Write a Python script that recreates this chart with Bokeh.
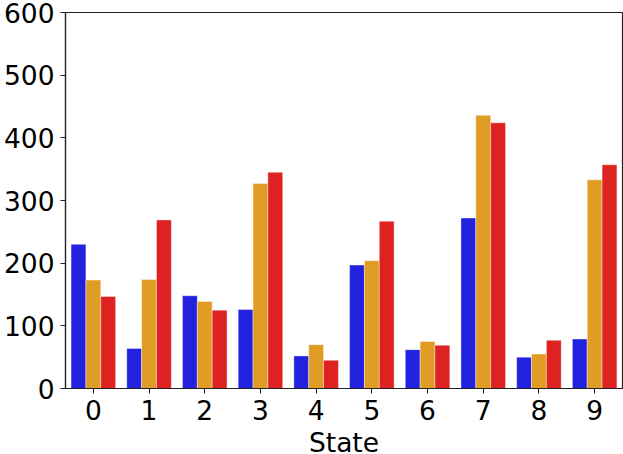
from bokeh.plotting import figure
from bokeh.models import ColumnDataSource, FactorRange, Range1d, FixedTicker
from bokeh.transform import dodge
from bokeh.embed import file_html
from bokeh.resources import INLINE

states = ["0", "1", "2", "3", "4", "5", "6", "7", "8", "9"]
series_a = [230, 64, 148, 126, 52, 197, 62, 272, 50, 79]
series_b = [173, 174, 139, 327, 70, 204, 75, 436, 55, 333]
series_c = [147, 269, 125, 345, 45, 267, 69, 424, 77, 357]
y_ticks = [0, 100, 200, 300, 400, 500, 600]

colors = ["#2121DE", "#E09C24", "#DE2121"]

src = ColumnDataSource(dict(state=states, a=series_a, b=series_b, c=series_c))

p = figure(
    x_range=FactorRange(factors=states, range_padding=0),
    y_range=Range1d(0, 600),
    frame_width=557, frame_height=376,
    min_border_left=64, min_border_right=2, min_border_top=12, min_border_bottom=66,
    output_backend="svg", toolbar_location=None,
    margin=(0, 0, 0, 0),
)

bw = 0.8 / 3
for key, off, col in (("a", -bw, colors[0]), ("b", 0.0, colors[1]), ("c", bw, colors[2])):
    p.vbar(x=dodge("state", off, range=p.x_range), top=key, width=bw, bottom=0,
           source=src, fill_color=col, line_color="white", line_alpha=0.5, line_width=0.8)

p.xgrid.visible = False
p.ygrid.visible = False
p.outline_line_color = "#222222"
p.outline_line_width = 1.2
p.background_fill_color = "white"
p.border_fill_color = "white"

p.yaxis.ticker = FixedTicker(ticks=y_ticks)
for ax in (p.xaxis[0], p.yaxis[0]):
    ax.major_label_text_font = "DejaVu Sans"
    ax.major_label_text_font_size = "26.5px"
    ax.major_label_text_color = "black"
    ax.axis_line_color = "#222222"
    ax.axis_line_width = 1.2
    ax.major_tick_line_color = "#222222"
    ax.major_tick_in = 0
    ax.major_tick_out = 5
    ax.minor_tick_line_color = None
p.yaxis.major_label_standoff = 6
p.xaxis.major_label_standoff = 6

p.xaxis.axis_label = "State"
p.xaxis.axis_label_text_font = "DejaVu Sans"
p.xaxis.axis_label_text_font_size = "26.5px"
p.xaxis.axis_label_text_font_style = "normal"
p.xaxis.axis_label_text_color = "black"
p.xaxis.axis_label_standoff = 4

open("out.html", "w").write(file_html(p, INLINE))
